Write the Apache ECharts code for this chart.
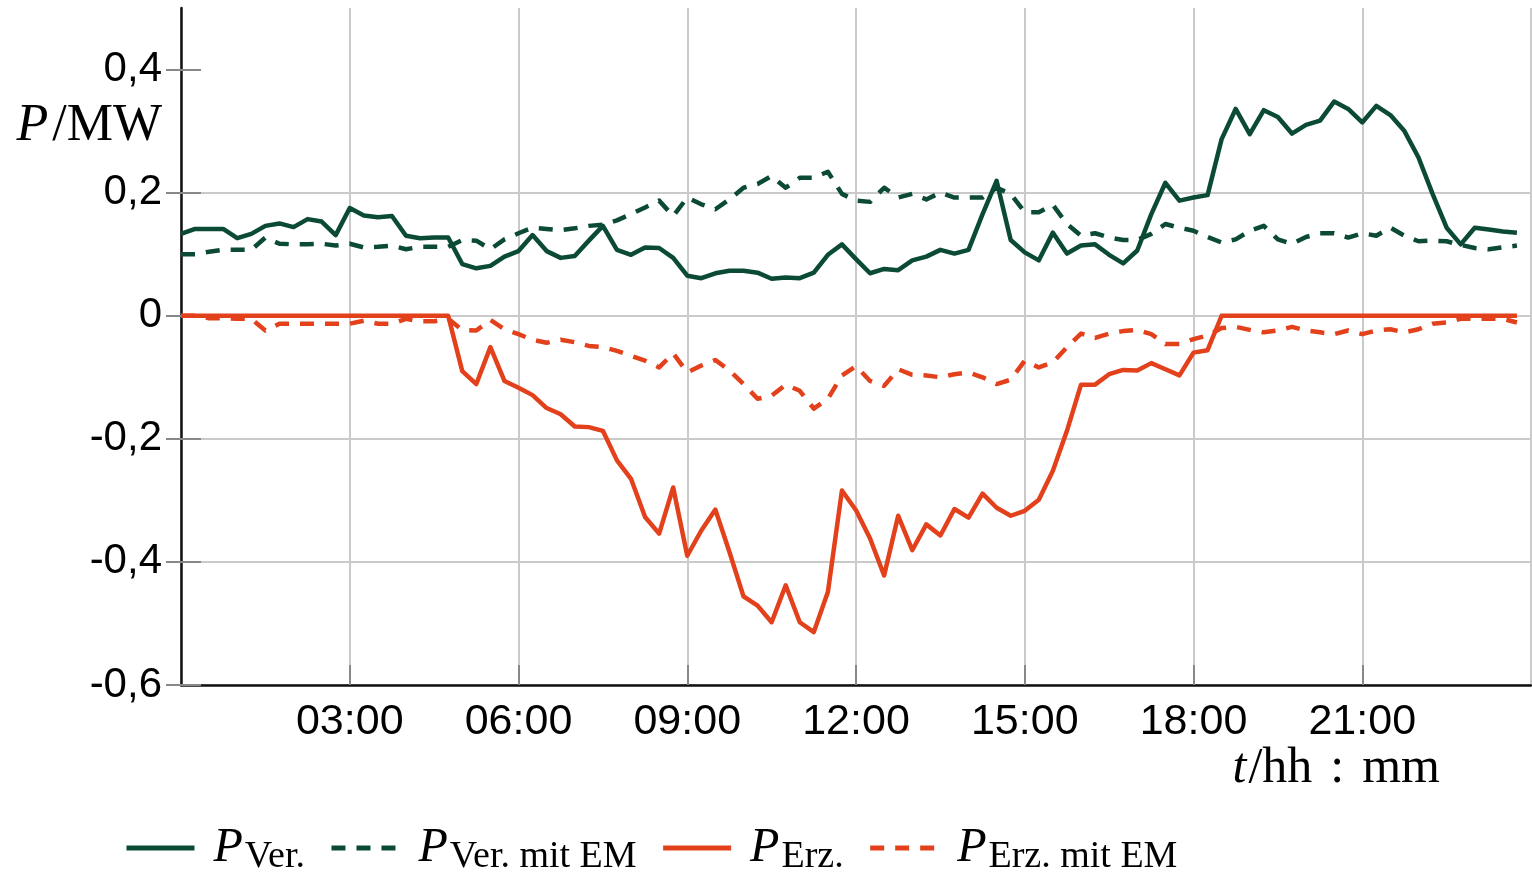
<!DOCTYPE html>
<html>
<head>
<meta charset="utf-8">
<script src="https://cdn.jsdelivr.net/npm/echarts@6/dist/echarts.min.js"></script>
<style>html,body{margin:0;padding:0;background:#fff}#c{width:1532px;height:875px}</style>
</head>
<body>
<div id="c"></div>
<script>
// time in hours, 15-minute steps (x categories)
var hours = [];
for (var i = 0; i < 96; i++) hours.push(i / 4);

var pVer = [
0.133,0.141,0.141,0.141,0.126,0.133,0.146,0.150,0.144,0.157,
0.153,0.131,0.175,0.163,0.160,0.162,0.130,0.126,0.127,0.127,
0.084,0.077,0.081,0.096,0.105,0.131,0.105,0.094,0.097,0.122,
0.146,0.107,0.099,0.111,0.110,0.094,0.065,0.061,0.069,0.073,
0.073,0.070,0.060,0.062,0.061,0.070,0.099,0.116,0.092,0.069,
0.076,0.074,0.090,0.096,0.107,0.101,0.107,0.165,0.219,0.123,
0.103,0.090,0.135,0.101,0.114,0.116,0.099,0.085,0.106,0.165,
0.216,0.187,0.192,0.196,0.287,0.336,0.295,0.334,0.323,0.296,
0.310,0.317,0.348,0.336,0.314,0.341,0.326,0.300,0.257,0.198,
0.143,0.116,0.143,0.140,0.137,0.135];

var pVerEM = [
0.100,0.100,0.104,0.107,0.107,0.107,0.127,0.117,0.116,0.116,
0.117,0.114,0.117,0.111,0.112,0.114,0.108,0.112,0.112,0.112,
0.123,0.122,0.108,0.124,0.134,0.143,0.141,0.139,0.142,0.146,
0.148,0.155,0.165,0.176,0.187,0.162,0.192,0.181,0.173,0.189,
0.208,0.214,0.227,0.208,0.224,0.224,0.234,0.198,0.187,0.185,
0.208,0.192,0.198,0.189,0.200,0.192,0.192,0.192,0.208,0.198,
0.168,0.168,0.180,0.149,0.130,0.134,0.127,0.123,0.123,0.133,
0.149,0.143,0.138,0.128,0.119,0.124,0.138,0.146,0.124,0.117,
0.128,0.134,0.134,0.127,0.134,0.130,0.143,0.130,0.121,0.122,
0.121,0.115,0.110,0.108,0.111,0.114];

var pErz = [
0,0,0,0,0,0,0,0,0,0,
0,0,0,0,0,0,0,0,0,0,
-0.090,-0.111,-0.051,-0.106,-0.117,-0.129,-0.150,-0.160,-0.180,-0.181,
-0.187,-0.235,-0.265,-0.327,-0.354,-0.279,-0.390,-0.349,-0.315,-0.384,
-0.456,-0.471,-0.498,-0.438,-0.498,-0.514,-0.449,-0.284,-0.316,-0.362,
-0.422,-0.325,-0.381,-0.339,-0.357,-0.314,-0.328,-0.289,-0.312,-0.325,
-0.317,-0.299,-0.252,-0.187,-0.112,-0.112,-0.095,-0.088,-0.089,-0.077,
-0.087,-0.097,-0.060,-0.056,0,0,0,0,0,0,
0,0,0,0,0,0,0,0,0,0,
0,0,0,0,0,0];

var pErzEM = [
0,0,-0.004,-0.004,-0.005,-0.005,-0.024,-0.013,-0.013,-0.013,
-0.013,-0.013,-0.013,-0.008,-0.013,-0.013,-0.005,-0.009,-0.009,-0.005,
-0.023,-0.024,-0.007,-0.022,-0.030,-0.039,-0.044,-0.039,-0.043,-0.049,
-0.051,-0.057,-0.065,-0.073,-0.084,-0.061,-0.092,-0.081,-0.072,-0.089,
-0.111,-0.135,-0.130,-0.112,-0.122,-0.151,-0.135,-0.097,-0.082,-0.106,
-0.114,-0.087,-0.096,-0.097,-0.100,-0.095,-0.092,-0.100,-0.111,-0.104,
-0.073,-0.084,-0.076,-0.051,-0.029,-0.036,-0.029,-0.025,-0.023,-0.030,
-0.046,-0.046,-0.038,-0.032,-0.020,-0.018,-0.023,-0.027,-0.024,-0.018,
-0.024,-0.027,-0.030,-0.024,-0.030,-0.024,-0.022,-0.027,-0.022,-0.013,
-0.011,-0.005,-0.005,-0.005,-0.005,-0.011];

var seriesNames = ['PVer.', 'PVer. mit EM', 'PErz.', 'PErz. mit EM'];
var legendSubs = {'PVer.': 'Ver.', 'PVer. mit EM': 'Ver. mit EM', 'PErz.': 'Erz.', 'PErz. mit EM': 'Erz. mit EM'};
var xTickLabels = ['03:00','06:00','09:00','12:00','15:00','18:00','21:00'];
var yTicks = [-0.6, -0.4, -0.2, 0, 0.2, 0.4];

var GREEN = '#0b4a36';
var RED = '#e3401c';

function pairs(vals) {
  return vals.map(function (v, i) { return [hours[i], v]; });
}
function mk(name, vals, color, dashed) {
  return {
    name: name, type: 'line', data: pairs(vals), symbol: 'none', showSymbol: false,
    animation: false, yAxisIndex: 0,
    lineStyle: { color: color, width: 4.5, type: dashed ? [14, 11] : 'solid', join: 'round' },
    itemStyle: { color: color }
  };
}

function yLabel(v) {
  if (Math.abs(v - 0.5) < 1e-6) return '';
  var r = Math.round(v * 10) / 10;
  if (r === 0) return '0';
  return r.toFixed(1).replace('.', ',');
}

var chart = echarts.init(document.getElementById('c'));
chart.setOption({
  animation: false,
  backgroundColor: '#fff',
  grid: { left: 181, right: 1, top: 8, bottom: 190, containLabel: false },
  xAxis: {
    type: 'value', min: 0, max: 24, interval: 3,
    axisLine: { show: true, onZero: false, lineStyle: { color: '#111', width: 2.5 } },
    axisTick: { show: true, inside: true, length: 20, lineStyle: { color: '#888', width: 2 } },
    axisLabel: {
      margin: 16, color: '#000', fontSize: 43, fontFamily: 'Liberation Sans',
      showMinLabel: false, showMaxLabel: false,
      formatter: function (v) {
        var h = Math.round(v);
        var s = (h < 10 ? '0' : '') + h + ':00';
        return xTickLabels.indexOf(s) >= 0 ? s : '';
      }
    },
    splitLine: { show: true, lineStyle: { color: '#cacaca', width: 2 } }
  },
  yAxis: [{
    type: 'value', min: -0.6, max: 0.5, interval: 0.2,
    axisLine: { show: true, onZero: false, lineStyle: { color: '#111', width: 2.5 } },
    axisTick: { show: true, inside: true, length: 20, customValues: yTicks, lineStyle: { color: '#888', width: 2 } },
    axisLabel: {
      margin: 19, color: '#000', fontSize: 42, fontFamily: 'Liberation Sans',
      showMaxLabel: false, formatter: yLabel
    },
    splitLine: { show: true, showMaxLine: false, lineStyle: { color: '#cacaca', width: 2 } }
  }, {
    type: 'value', position: 'right', min: -0.6, max: 0.5, interval: 0.2,
    axisLine: { show: false },
    axisTick: { show: true, inside: true, length: 15, customValues: yTicks, lineStyle: { color: '#888', width: 2 } },
    axisLabel: { show: false },
    splitLine: { show: false }
  }],
  legend: {
    left: 124, top: 820, orient: 'horizontal', padding: 0,
    itemWidth: 68, itemHeight: 20, itemGap: 24,
    itemStyle: { opacity: 0, color: 'rgba(0,0,0,0)', borderWidth: 0 },
    lineStyle: { width: 5 },
    data: seriesNames,
    formatter: function (name) { return '{p|P}{s|' + legendSubs[name] + '}'; },
    textStyle: {
      color: '#000',
      rich: {
        p: { fontFamily: 'Liberation Serif', fontStyle: 'italic', fontSize: 48, lineHeight: 52, verticalAlign: 'middle', padding: [0, 2, 0, 14] },
        s: { fontFamily: 'Liberation Serif', fontSize: 38, lineHeight: 34, padding: [18, 0, 0, 0], verticalAlign: 'middle' }
      }
    }
  },
  graphic: [
    {
      type: 'text', right: 1532 - 162, top: 100,
      style: {
        text: '{i|P}{n|/MW}', fill: '#000',
        rich: {
          i: { fontFamily: 'Liberation Serif', fontStyle: 'italic', fontSize: 52, fill: '#000', padding: [0, 4, 0, 0] },
          n: { fontFamily: 'Liberation Serif', fontSize: 52, fill: '#000' }
        }
      }
    },
    {
      type: 'text', right: 1532 - 1440, top: 744,
      style: {
        text: '{i|t}{n|/hh}{c|:}{n|mm}', fill: '#000',
        rich: {
          i: { fontFamily: 'Liberation Serif', fontStyle: 'italic', fontSize: 50, fill: '#000', padding: [0, 2, 0, 0] },
          n: { fontFamily: 'Liberation Serif', fontSize: 50, fill: '#000' },
          c: { fontFamily: 'Liberation Serif', fontSize: 50, fill: '#000', padding: [0, 18, 0, 18] }
        }
      }
    }
  ],
  series: [
    mk(seriesNames[0], pVer, GREEN, false),
    mk(seriesNames[1], pVerEM, GREEN, true),
    mk(seriesNames[2], pErz, RED, false),
    mk(seriesNames[3], pErzEM, RED, true)
  ]
});
</script>
</body>
</html>
